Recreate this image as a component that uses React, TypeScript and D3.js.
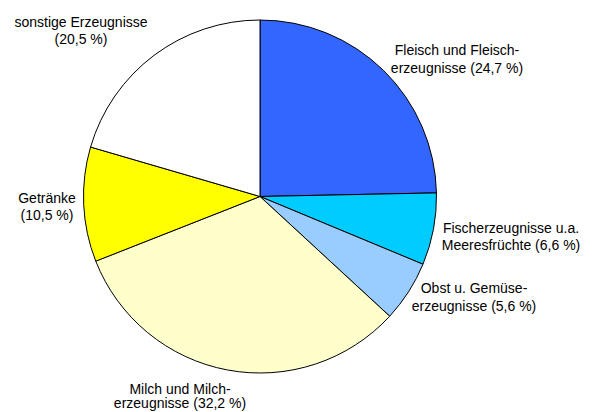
import React, { useRef, useEffect } from "react"
import * as d3 from "d3"

// shares of the food categories, clockwise from 12 o'clock
const categories = [
  ["Fleisch und Fleisch-", "erzeugnisse (24,7 %)"],
  ["Fischerzeugnisse u.a.", "Meeresfrüchte (6,6 %)"],
  ["Obst u. Gemüse-", "erzeugnisse (5,6 %)"],
  ["Milch und Milch-", "erzeugnisse (32,2 %)"],
  ["Getränke", "(10,5 %)"],
  ["sonstige Erzeugnisse", "(20,5 %)"],
]
const values = [24.7, 6.6, 5.6, 32.2, 10.5, 20.5]
const colours = ["#3366FF", "#00CCFF", "#99CCFF", "#FFFFCC", "#FFFF00", "#FFFFFF"]

// label anchors (first baseline), offsets from the pie centre, and line gaps
const labelOffsets = [
  [197, -141.5],
  [251, 36],
  [214, 96.5],
  [-80, 197],
  [-213, 6],
  [-179, -170],
]
const lineGaps = [17.5, 17.5, 17.5, 14.5, 17.5, 17.5]

const App = () => {
  const ref = useRef(null)
  const width = 596
  const height = 412

  useEffect(() => {
    const svg = d3.select(ref.current)
    svg.selectAll("*").remove()
    const cx = 260
    const cy = 196.5
    const r = 176.5

    const pie = d3.pie<number>().sort(null).value(d => d)
    const arcs = pie(values)
    const arc = d3.arc<d3.PieArcDatum<number>>().innerRadius(0).outerRadius(r)

    const g = svg.append("g").attr("transform", `translate(${cx},${cy})`)
    g.selectAll("path")
      .data(arcs)
      .enter()
      .append("path")
      .attr("d", arc)
      .style("fill", (d, i) => colours[i])
      .style("stroke", "#000")
      .style("stroke-width", 1)
      .style("stroke-linejoin", "round")

    const labels = g
      .selectAll("text")
      .data(categories.map((lines, i) => ({ lines, i })))
      .enter()
      .append("text")
      .attr("text-anchor", "middle")
      .style("font-family", "Liberation Sans, Arial, sans-serif")
      .style("font-size", "14px")
      .style("fill", "#000")
      .attr("transform", d => `translate(${labelOffsets[d.i][0]},${labelOffsets[d.i][1]})`)
    labels
      .selectAll("tspan")
      .data(d => d.lines.map((t, j) => ({ t, y: j * lineGaps[d.i] })))
      .enter()
      .append("tspan")
      .attr("x", 0)
      .attr("y", d => d.y)
      .text(d => d.t)
  }, [ref])

  return (
    <svg
      ref={ref}
      width={width}
      height={height}
      style={{ position: "absolute", left: 0, top: 0, background: "#fff" }}
    />
  )
}

export default App
